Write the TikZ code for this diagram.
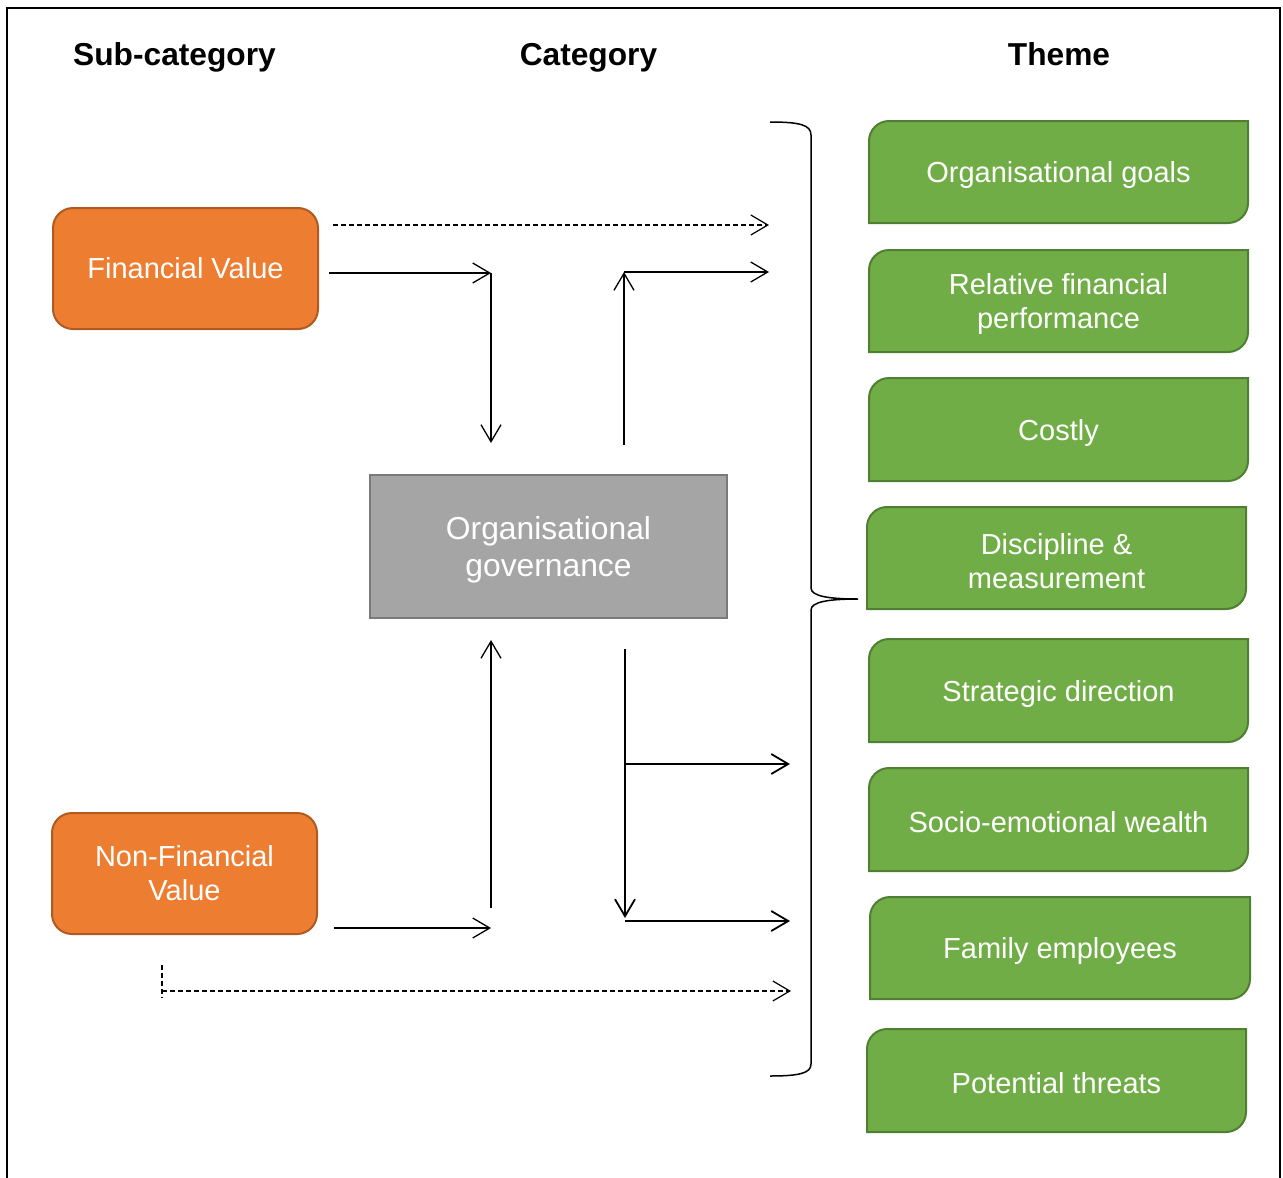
\documentclass[tikz,border=0pt]{standalone}
\usepackage{fontspec}
\setmainfont{Liberation Sans}
\usetikzlibrary{arrows.meta,calc}
\definecolor{orf}{HTML}{ED7D31}
\definecolor{orb}{HTML}{AE5A21}
\definecolor{grf}{HTML}{A5A5A5}
\definecolor{grb}{HTML}{7A7A7A}
\definecolor{gnf}{HTML}{70AD47}
\definecolor{gnb}{HTML}{507E32}
\newcommand\themebox[6]{%
  \draw[draw=gnb, fill=gnf, line width=2pt] (#1,#4) -- (#1,{#2+20}) .. controls (#1,{#2+9}) and ({#1+9},#2) .. ({#1+20},#2) -- (#3,#2) -- (#3,{#4-20}) .. controls (#3,{#4-9}) and ({#3-9},#4) .. ({#3-20},#4) -- cycle;
  \node[themetext] (#5) at ({(#1+#3)/2},{(#2+#4)/2}) {#6};
}
\begin{document}
\begin{tikzpicture}[x=1pt,y=-1pt,
  titletext/.style={font=\fontsize{31.7}{36}\selectfont\bfseries, inner sep=0pt, anchor=base},
  orbox/.style={draw=orb, fill=orf, line width=2pt, rounded corners=20pt, text=white, align=center,
    font=\fontsize{29}{34}\selectfont, minimum width=265pt, minimum height=121pt, inner sep=0pt},
  govbox/.style={draw=grb, fill=grf, line width=2pt, text=white, align=center,
    font=\fontsize{31.8}{37}\selectfont, minimum width=357pt, minimum height=143pt, inner sep=0pt},
  themetext/.style={text=white, align=center, font=\fontsize{29}{34}\selectfont, inner sep=0pt, yshift=-3pt},
  arr/.style={-{Straight Barb[length=17pt,width=20pt]}, line width=1.3pt},
  arrb/.style={-{Straight Barb[length=17pt,width=20pt]}, line width=1.8pt},
  dsh/.style={dash pattern=on 5pt off 3pt, line width=1.2pt},
]
\useasboundingbox (0,0) rectangle (1283,1178);
\draw[line width=2pt] (7,1190) -- (7,8) -- (1280,8) -- (1280,1190);

% titles
\node[titletext] (tsub) at (174.5,65) {Sub-category};
\node[titletext] (tcat) at (588.5,65) {Category};
\node[titletext] (tthm) at (1059,65) {Theme};

% left boxes
\node[orbox] (fv) at (185.5,268.5) {Financial Value};
\node[orbox] (nfv) at (184.5,873.5) {Non-Financial\\Value};
\node[govbox] (gov) at (548.5,546.5) {};
\node[text=white, align=center, font=\fontsize{31.8}{37}\selectfont, inner sep=0pt, yshift=-3pt] (govt) at (gov.center) {Organisational\\governance};

% theme boxes
\themebox{869}{121}{1248}{223}{t1}{Organisational goals}
\themebox{869}{250}{1248}{352}{t2}{Relative financial\\performance}
\themebox{869}{378}{1248}{481}{t3}{Costly}
\themebox{867}{507}{1246}{609}{t4}{Discipline \&\\measurement}
\themebox{869}{639}{1248}{742}{t5}{Strategic direction}
\themebox{869}{768}{1248}{871}{t6}{Socio-emotional wealth}
\themebox{870}{897}{1250}{999}{t7}{Family employees}
\themebox{867}{1029}{1246}{1132}{t8}{Potential threats}

% brace
\coordinate (bt) at (770,122);
\coordinate (btip) at (858,599);
\coordinate (bb) at (770,1076);
\draw[line width=1.5pt] (bt) .. controls (800,122) and (811,125) .. (811,135) -- (811,588)
  .. controls (811,596) and (828,599) .. (btip)
  .. controls (828,599) and (811,602) .. (811,610) -- (811,1064)
  .. controls (811,1073) and (800,1076) .. (bb);

% upper connectors
\coordinate (d1s) at (333,225); \coordinate (d1e) at (769,225);
\draw[arr, dsh] (d1s) -- (d1e);
\coordinate (fvo) at (329,273); \coordinate (j1) at (491,273); \coordinate (j1d) at (491,443);
\draw[arr] (fvo) -- (j1);
\draw[arr] (j1) -- (j1d);
\coordinate (j2s) at (624,445); \coordinate (j2) at (624,272); \coordinate (j2e) at (769,272);
\draw[arr] (j2s) -- (j2);
\draw[arr] (j2) -- (j2e);

% lower connectors
\coordinate (j3s) at (491,908); \coordinate (j3e) at (491,640);
\draw[arr] (j3s) -- (j3e);
\coordinate (nfo) at (334,928); \coordinate (nfe) at (491,928);
\draw[arr] (nfo) -- (nfe);
\coordinate (j4s) at (625,649); \coordinate (j4e) at (625,918);
\draw[arrb] (j4s) -- (j4e);
\coordinate (h1s) at (625,764); \coordinate (h1e) at (790,764);
\draw[arrb] (h1s) -- (h1e);
\coordinate (h2s) at (625,921); \coordinate (h2e) at (790,921);
\draw[arrb] (h2s) -- (h2e);
\coordinate (v1s) at (162,965); \coordinate (v1e) at (162,998);
\draw[dsh] (v1s) -- (v1e);
\coordinate (d2s) at (162,991); \coordinate (d2e) at (791,991);
\draw[arr, dsh] (d2s) -- (d2e);
\end{tikzpicture}
\end{document}
